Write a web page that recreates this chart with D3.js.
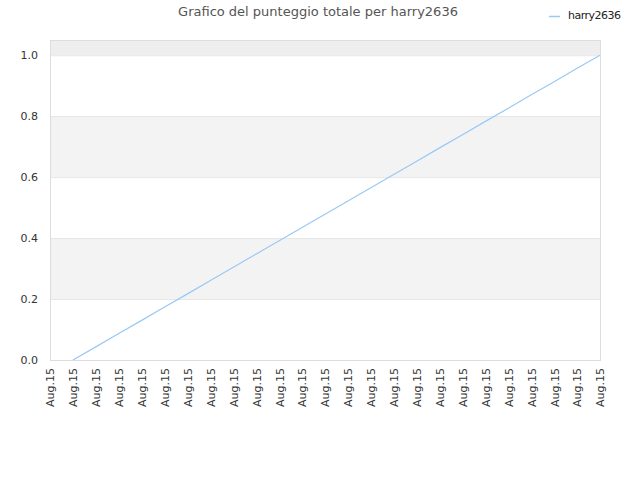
<!DOCTYPE html>
<html>
<head>
<meta charset="utf-8">
<script src="https://cdn.jsdelivr.net/npm/d3@7"></script>
<style>
  body { margin: 0; background: #fff; }
  text { font-family: "DejaVu Sans", sans-serif; }
</style>
</head>
<body>
<div id="chart"></div>
<script>
// labels along the x axis (all the same day)
const dateLabels = ['Aug.15','Aug.15','Aug.15','Aug.15','Aug.15','Aug.15','Aug.15','Aug.15',
  'Aug.15','Aug.15','Aug.15','Aug.15','Aug.15','Aug.15','Aug.15','Aug.15','Aug.15',
  'Aug.15','Aug.15','Aug.15','Aug.15','Aug.15','Aug.15','Aug.15','Aug.15'];

// total score, first slot has no value
const scores = [null, 0, 0.043, 0.087, 0.130, 0.174, 0.217, 0.261, 0.304, 0.348, 0.391,
  0.435, 0.478, 0.522, 0.565, 0.609, 0.652, 0.696, 0.739, 0.783, 0.826, 0.870, 0.913,
  0.957, 1.0];

const yTicks = [0, 0.2, 0.4, 0.6, 0.8, 1.0];
const seriesName = 'harry2636';

const width = 640, height = 480;
const margin = {top: 40, right: 40, bottom: 120, left: 50};

const svg = d3.select('#chart').append('svg')
  .attr('width', width)
  .attr('height', height);

const x = d3.scaleLinear()
  .domain([0, dateLabels.length - 1])
  .range([margin.left, width - margin.right]);

const y = d3.scaleLinear()
  .domain([0, 1.05])
  .range([height - margin.bottom, margin.top]);

// alternating bands
const bands = [[0.2, 0.4], [0.6, 0.8], [1.0, 1.05]];
svg.selectAll('.band')
  .data(bands)
  .join('rect')
  .attr('x', margin.left)
  .attr('width', width - margin.left - margin.right)
  .attr('y', d => y(d[1]))
  .attr('height', d => y(d[0]) - y(d[1]))
  .attr('fill', (d, i) => i == 2 ? '#eeeeee' : '#f3f3f3');

// grid lines
svg.selectAll('.grid')
  .data(yTicks)
  .join('line')
  .attr('x1', margin.left)
  .attr('x2', width - margin.right)
  .attr('y1', d => y(d) + 0.5)
  .attr('y2', d => y(d) + 0.5)
  .attr('stroke', '#e6e6e6');

// frame
svg.append('rect')
  .attr('x', margin.left + 0.5)
  .attr('y', margin.top + 0.5)
  .attr('width', width - margin.left - margin.right)
  .attr('height', height - margin.top - margin.bottom)
  .attr('fill', 'none')
  .attr('stroke', '#dddddd');

// y axis labels
const yAxis = d3.axisLeft(y)
  .tickValues(yTicks)
  .tickFormat(d3.format('.1f'))
  .tickSize(0)
  .tickPadding(12);

svg.append('g')
  .attr('transform', `translate(${margin.left},0)`)
  .call(yAxis)
  .call(g => g.select('.domain').remove())
  .call(g => g.selectAll('text')
    .attr('fill', '#333')
    .style('font-size', '11px')
    .style('font-family', '"DejaVu Sans", sans-serif'));

// x axis labels
const xAxis = d3.axisBottom(x)
  .tickValues(d3.range(dateLabels.length))
  .tickFormat(i => dateLabels[i])
  .tickSize(0);

svg.append('g')
  .attr('transform', `translate(0,${height - margin.bottom})`)
  .call(xAxis)
  .call(g => g.select('.domain').remove())
  .call(g => g.selectAll('text')
    .attr('fill', '#333')
    .style('font-size', '11px')
    .style('font-family', '"DejaVu Sans", sans-serif')
    .attr('text-anchor', 'end')
    .attr('dy', '0.35em')
    .attr('transform', 'translate(0,8) rotate(-90)')
    .attr('x', 0)
    .attr('y', 0));

// line
const line = d3.line()
  .defined(d => d != null)
  .x((d, i) => x(i))
  .y(d => y(d));

svg.append('path')
  .datum(scores)
  .attr('fill', 'none')
  .attr('stroke', '#99c9f5')
  .attr('stroke-width', 1.2)
  .attr('d', line);

// title
svg.append('text')
  .attr('x', 318)
  .attr('y', 16)
  .attr('text-anchor', 'middle')
  .attr('fill', '#555')
  .style('font-size', '13px')
  .text('Grafico del punteggio totale per harry2636');

// legend
svg.append('line')
  .attr('x1', 549).attr('x2', 560)
  .attr('y1', 16.5).attr('y2', 16.5)
  .attr('stroke', '#99c9f5')
  .attr('stroke-width', 1.5);

svg.append('text')
  .attr('x', 568)
  .attr('y', 19)
  .attr('fill', '#222')
  .style('font-size', '11px')
  .style('letter-spacing', '-0.5px')
  .text(seriesName);
</script>
</body>
</html>
